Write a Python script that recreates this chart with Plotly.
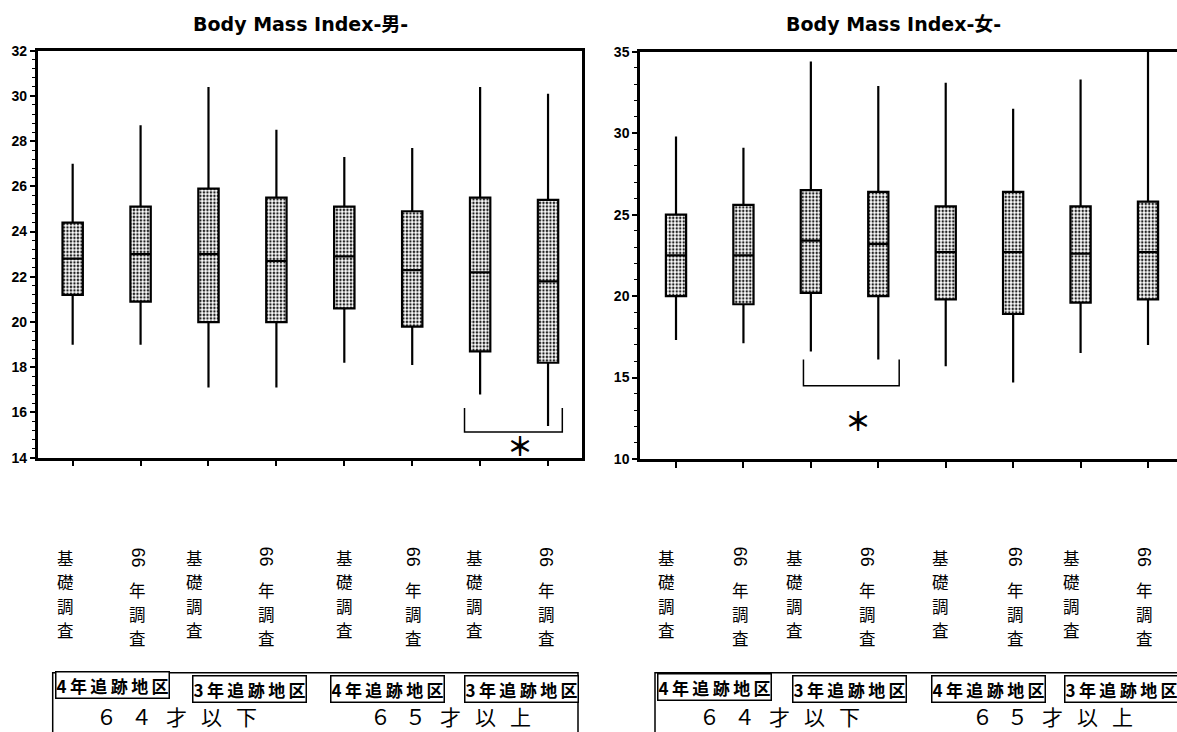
import plotly.graph_objects as go

# ---- data -----------------------------------------------------------------
survey_labels = ["基礎調査", "66年調査", "基礎調査", "66年調査",
                 "基礎調査", "66年調査", "基礎調査", "66年調査"]
region_labels = ["4年追跡地区", "3年追跡地区", "4年追跡地区", "3年追跡地区"]
age_labels = ["６４才以下", "６５才以上"]

# 男 (male) BMI
m_upper = [27.0, 28.7, 30.4, 28.5, 27.3, 27.7, 30.4, 30.1]
m_q3 = [24.4, 25.1, 25.9, 25.5, 25.1, 24.9, 25.5, 25.4]
m_median = [22.8, 23.0, 23.0, 22.7, 22.9, 22.3, 22.2, 21.8]
m_q1 = [21.2, 20.9, 20.0, 20.0, 20.6, 19.8, 18.7, 18.2]
m_lower = [19.0, 19.0, 17.1, 17.1, 18.2, 18.1, 16.8, 15.4]

# 女 (female) BMI
f_upper = [29.8, 29.1, 34.4, 32.9, 33.1, 31.5, 33.3, 35.8]
f_q3 = [25.0, 25.6, 26.5, 26.4, 25.5, 26.4, 25.5, 25.8]
f_median = [22.5, 22.5, 23.4, 23.2, 22.7, 22.7, 22.6, 22.7]
f_q1 = [20.0, 19.5, 20.2, 20.0, 19.8, 18.9, 19.6, 19.8]
f_lower = [17.3, 17.1, 16.6, 16.1, 15.7, 14.7, 16.5, 17.0]

# significance brackets: (left x, right x, bracket top, bracket bottom, star y)
m_sig = (5.77, 7.21, 16.2, 15.14, 14.6)
f_sig = (1.89, 3.31, 16.1, 14.5, 12.4)

# ---- layout helpers ---------------------------------------------------------
W, H = 1177, 732
def px(x):
    return x / W
def py(y):
    return 1 - y / H

CJK = "Noto Sans CJK JP"
positions = list(range(len(survey_labels)))
BOX_W = 0.3

fig = go.Figure()

def add_panel(xa, ya, upper, q3, med, q1, lower):
    # stippled fill of each box
    fig.add_trace(go.Bar(
        x=positions, y=[b - a for a, b in zip(q1, q3)], base=q1,
        width=BOX_W, xaxis=xa, yaxis=ya, showlegend=False, hoverinfo="skip",
        marker=dict(color="white", line=dict(width=0),
                    pattern=dict(shape=".", fgcolor="#222222", bgcolor="white",
                                 size=3.5, solidity=0.4)),
    ))
    # box outline, median and whiskers
    fig.add_trace(go.Box(
        x=positions, q1=q1, median=med, q3=q3, lowerfence=lower, upperfence=upper,
        width=BOX_W, whiskerwidth=0, boxpoints=False,
        fillcolor="rgba(0,0,0,0)", line=dict(color="black", width=2.2),
        xaxis=xa, yaxis=ya, showlegend=False,
    ))

add_panel("x", "y", m_upper, m_q3, m_median, m_q1, m_lower)
add_panel("x2", "y2", f_upper, f_q3, f_median, f_q1, f_lower)

axis_common = dict(showgrid=False, zeroline=False, showline=True,
                   linecolor="black", linewidth=2.5)
tickfont = dict(family="Liberation Sans, Arial", size=14, color="black", weight="bold")

fig.update_layout(
    width=W, height=H, margin=dict(l=0, r=0, t=0, b=0),
    paper_bgcolor="white", plot_bgcolor="white", template="none",
    bargap=0, showlegend=False,
    xaxis=dict(domain=[px(37.7), px(582)], range=[-0.515, 7.5], anchor="y",
               tickvals=positions, showticklabels=False, ticks="outside",
               ticklen=6, tickwidth=1.5, tickcolor="black", mirror=True,
               automargin=False, **axis_common),
    yaxis=dict(domain=[py(457.7), py(50.7)], range=[14, 32], anchor="x",
               tick0=14, dtick=2, ticks="outside", ticklen=5, tickwidth=1.5,
               tickcolor="black", tickfont=tickfont, mirror=True,
               minor=dict(dtick=0.4, ticks="outside", ticklen=3, tickwidth=1,
                          tickcolor="black", showgrid=False),
               automargin=False, **axis_common),
    xaxis2=dict(domain=[px(640), 1.0], range=[-0.534, 7.43], anchor="y2",
                tickvals=positions, showticklabels=False, ticks="outside",
                ticklen=6, tickwidth=1.5, tickcolor="black", mirror=True,
                automargin=False, **axis_common),
    yaxis2=dict(domain=[py(459), py(51.7)], range=[10, 35], anchor="x2",
                tick0=10, dtick=5, ticks="outside", ticklen=5, tickwidth=1.5,
                tickcolor="black", tickfont=tickfont, mirror=False,
                minor=dict(dtick=1, ticks="outside", ticklen=3, tickwidth=1,
                           tickcolor="black", showgrid=False),
                automargin=False, **axis_common),
)

annotations = []
shapes = []

# panel titles
title_font = dict(family="DejaVu Sans, " + CJK, size=19, color="black", weight="bold")
annotations.append(dict(text="Body Mass Index-男-", x=px(300), y=py(24),
                        xref="paper", yref="paper", showarrow=False,
                        font=title_font, xanchor="center", yanchor="middle"))
annotations.append(dict(text="Body Mass Index-女-", x=px(893), y=py(24),
                        xref="paper", yref="paper", showarrow=False,
                        font=title_font, xanchor="center", yanchor="middle"))

# significance brackets and stars
for (xa, ya, sig) in (("x", "y", m_sig), ("x2", "y2", f_sig)):
    x0, x1, top, bot, star_y = sig
    shapes.append(dict(type="path", xref=xa, yref=ya,
                       path=f"M {x0},{top} L {x0},{bot} L {x1},{bot} L {x1},{top}",
                       line=dict(color="black", width=1.5)))
    annotations.append(dict(text="＊", x=(x0 + x1) / 2 + 0.1, y=star_y, xref=xa, yref=ya,
                            showarrow=False,
                            font=dict(family=CJK, size=26, color="black", weight="bold"),
                            xanchor="center", yanchor="middle"))

# vertical survey labels below each box (top-to-bottom writing, one glyph per cell)
label_shift = {"x": [-7, -3, -14, -10, 0, 1, -6, -2],
               "x2": [-10, -3, -16, -11, -5, 2, -9, -4]}
CHAR_SIZE = 16.5
PITCH = 24.0
char_font = dict(family=CJK, size=CHAR_SIZE, color="black")
for xa in ("x", "x2"):
    for i, lab in enumerate(survey_labels):
        xs = label_shift[xa][i]
        if lab.startswith("66"):
            # the year digits are turned sideways on top of the column
            annotations.append(dict(text=lab[:2], x=i, y=py(557), xref=xa, yref="paper",
                                    xshift=xs, textangle=90, showarrow=False,
                                    font=dict(family="Liberation Sans, Arial", size=18,
                                              color="black"),
                                    xanchor="center", yanchor="middle"))
            rest, y0 = lab[2:], 590.0
        else:
            rest, y0 = lab, 558.0
        for k, ch in enumerate(rest):
            annotations.append(dict(text=ch, x=i, y=py(y0 + k * PITCH), xref=xa,
                                    yref="paper", xshift=xs, showarrow=False,
                                    font=char_font, xanchor="center", yanchor="middle"))

# region / age group frame under each panel
box_font = dict(family=CJK, size=17, color="black", weight="bold")
age_font = dict(family=CJK, size=21, color="black")
gap = "\u2002\u2006"
for (left, right, region_x, region_y, age_x) in (
        (52.7, 578, [112, 249, 387, 521], [685, 688.5, 688.5, 688.5], [176.5, 450.5]),
        (655, 1200, [714, 850, 988.5, 1121.5], [686.5, 688.5, 688.5, 688.5], [779, 1052.5])):
    shapes.append(dict(type="path", xref="paper", yref="paper",
                       path=f"M {px(left)},{py(740)} L {px(left)},{py(672.7)} "
                            f"L {px(right)},{py(672.7)} L {px(right)},{py(740)}",
                       line=dict(color="black", width=1.5)))
    for txt, xx, yy in zip(region_labels, region_x, region_y):
        annotations.append(dict(text="\u2009".join(txt), x=px(xx), y=py(yy),
                                xref="paper", yref="paper",
                                showarrow=False, font=box_font, bordercolor="black",
                                borderwidth=1.5, borderpad=0, bgcolor="white",
                                xanchor="center", yanchor="middle"))
    for txt, xx in zip(age_labels, age_x):
        annotations.append(dict(text=gap.join(txt), x=px(xx), y=py(716), xref="paper",
                                yref="paper", showarrow=False, font=age_font,
                                xanchor="center", yanchor="middle"))

fig.update_layout(annotations=annotations, shapes=shapes)
fig.write_html("out.html")
